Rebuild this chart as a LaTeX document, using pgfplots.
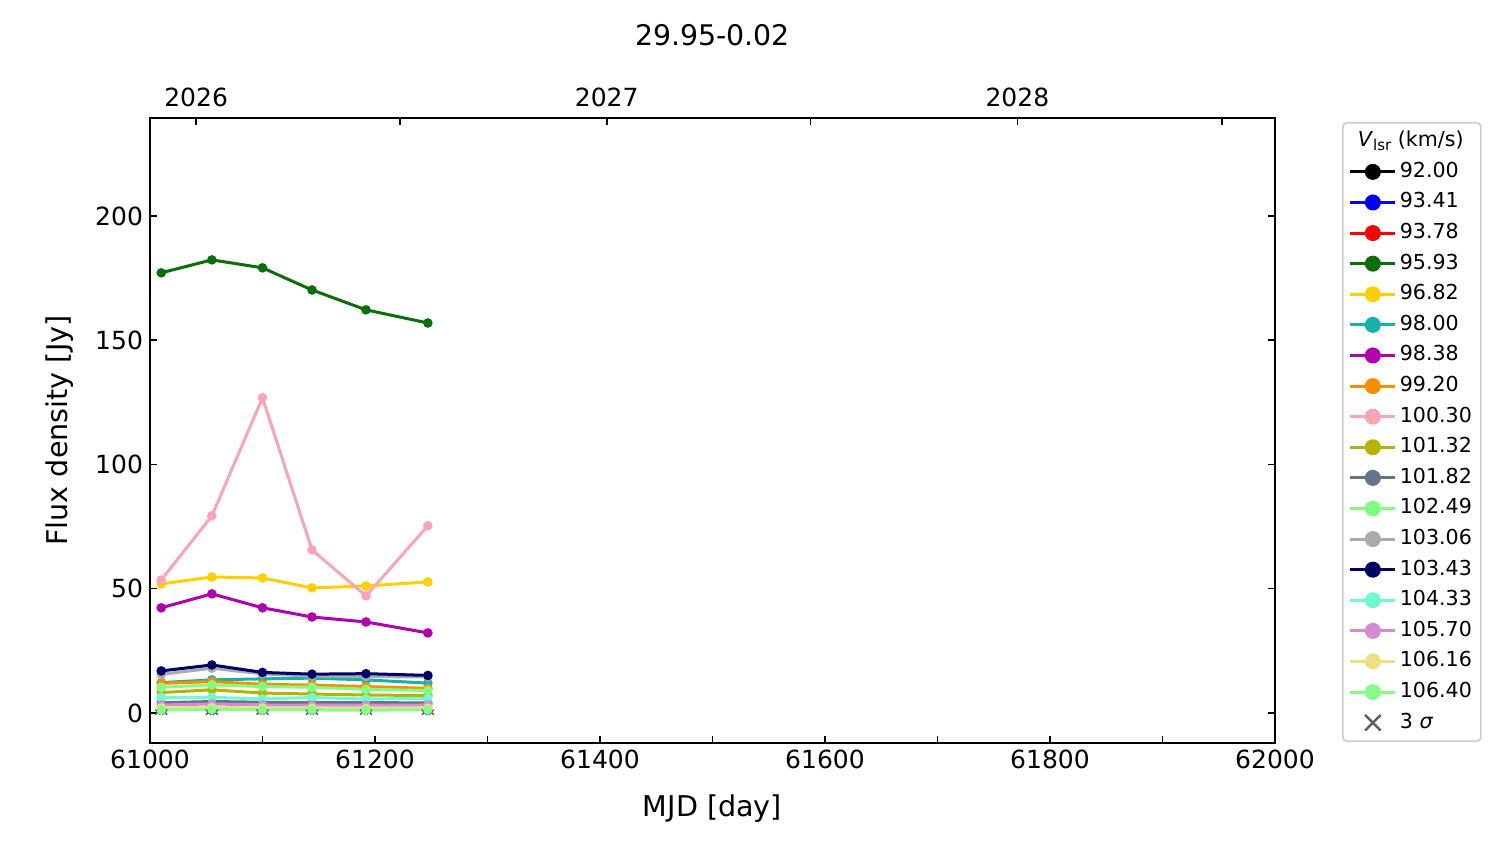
\documentclass[border=0pt]{standalone}
\usepackage{fontspec}
\setmainfont{DejaVu Sans}
\usepackage{pgfplots}
\pgfplotsset{compat=1.18}
\definecolor{cA}{HTML}{000000}
\definecolor{cB}{HTML}{0000FF}
\definecolor{cC}{HTML}{FF0000}
\definecolor{cD}{HTML}{0A6E0A}
\definecolor{cE}{HTML}{FFD000}
\definecolor{cF}{HTML}{15B2AA}
\definecolor{cG}{HTML}{B000B0}
\definecolor{cH}{HTML}{FF8C00}
\definecolor{cI}{HTML}{F8A5B5}
\definecolor{cJ}{HTML}{B4B400}
\definecolor{cK}{HTML}{627588}
\definecolor{cL}{HTML}{80FF80}
\definecolor{cM}{HTML}{AAAAAA}
\definecolor{cN}{HTML}{000066}
\definecolor{cO}{HTML}{70FAD0}
\definecolor{cP}{HTML}{D28CD2}
\definecolor{cQ}{HTML}{EDE07E}
\definecolor{cR}{HTML}{88FC88}
\definecolor{sig}{HTML}{606060}
\pgfplotsset{sigma legend/.style={legend image code/.code={\draw[sig, line width=1.2pt] plot[only marks, mark=x, mark size=5.5pt] coordinates {(11.25pt,0pt)};}}}
\begin{document}
\begin{tikzpicture}
\path[use as bounding box] (0,0) rectangle (750pt,422pt);
\begin{axis}[
  name=main,
  at={(75pt,50.5pt)}, anchor=south west,
  scale only axis, width=562.5pt, height=312.5pt,
  xmin=61000, xmax=62000, ymin=-12.1, ymax=239.4,
  axis line style={line width=1pt},
  every tick/.style={line width=0.8pt, black},
  tick align=inside,
  major tick length=3.5pt, minor tick length=3.5pt,
  xtick={61000,61200,...,62000},
  minor xtick={61100,61300,...,61900},
  ytick={0,50,...,200},
  xtick pos=bottom, ytick pos=both, yticklabel pos=left,
  /pgf/number format/assume math mode=true,
  /pgf/number format/set thousands separator={},
  scaled x ticks=false,
  tick label style={font=\fontsize{12.5}{15}\selectfont},
  xlabel={MJD [day]}, ylabel={Flux density [Jy]},
  label style={font=\fontsize{14.3}{17}\selectfont},
  xlabel style={at={(axis description cs:0.5,-0.1056)}, anchor=center},
  ylabel style={at={(axis description cs:-0.08,0.5)}, anchor=center},
  every axis title shift=0pt,
  title={29.95-0.02},
  title style={at={(axis description cs:0.5,1.1328)}, anchor=center, font=\fontsize{14.2}{17}\selectfont},
  every axis plot/.append style={line width=1.5pt, mark=*, mark size=1.6pt, mark options={solid}},
  legend image code/.code={\draw[mark repeat=2,mark phase=2,#1,mark size=3.25pt] plot coordinates {(0pt,0pt) (11.25pt,0pt) (22.5pt,0pt)};},
  legend cell align=left,
  legend style={at={(1.0596,0.9936)}, anchor=north west,
    draw=black!20, rounded corners=2pt, line width=0.8pt,
    font=\fontsize{10.3}{12}\selectfont,
    inner sep=3pt, row sep=2.8pt,
    nodes={inner sep=1.5pt, text height=7.5pt, text depth=2pt}},
]
% 3 sigma markers
\addplot[forget plot, only marks, mark=x, mark size=1.8pt, draw=sig, line width=0.8pt] coordinates {
(61007,0.3) (61013,0.3) (61052,0.3) (61058,0.3) (61097,0.3) (61103,0.3)
(61141,0.3) (61147,0.3) (61189,0.3) (61195,0.3) (61244,0.3) (61250,0.3)};
\addlegendimage{empty legend}
\addlegendentry{\hspace{-21pt}\textit{V}\raisebox{-0.35ex}{\fontsize{7.5}{9}\selectfont lsr} (km/s)}
\addlegendimage{cA, line width=1.5pt, mark=*}\addlegendentry{92.00}
\addlegendimage{cB, line width=1.5pt, mark=*}\addlegendentry{93.41}
\addlegendimage{cC, line width=1.5pt, mark=*}\addlegendentry{93.78}
\addplot[cD] coordinates {(61010,177.1) (61055,182.3) (61100,179.1) (61144,170.2) (61192,162.2) (61247,156.9)};
\addlegendentry{95.93}
\addplot[cE] coordinates {(61010,51.9) (61055,54.7) (61100,54.3) (61144,50.3) (61192,51.1) (61247,52.7)};
\addlegendentry{96.82}
\addplot[cF] coordinates {(61010,12.2) (61055,13.3) (61100,13.7) (61144,14.0) (61192,13.3) (61247,12.0)};
\addlegendentry{98.00}
\addplot[cG] coordinates {(61010,42.3) (61055,47.9) (61100,42.3) (61144,38.6) (61192,36.6) (61247,32.2)};
\addlegendentry{98.38}
\addplot[cH] coordinates {(61010,11.9) (61055,12.6) (61100,11.5) (61144,11.2) (61192,10.6) (61247,9.9)};
\addlegendentry{99.20}
\addplot[cI] coordinates {(61010,53.5) (61055,79.3) (61100,126.8) (61144,65.6) (61192,47.1) (61247,75.3)};
\addlegendentry{100.30}
\addplot[cJ] coordinates {(61010,8.2) (61055,9.3) (61100,8.0) (61144,7.6) (61192,7.2) (61247,7.0)};
\addlegendentry{101.32}
\addplot[cK] coordinates {(61010,4.1) (61055,4.6) (61100,4.3) (61144,4.1) (61192,4.2) (61247,4.0)};
\addlegendentry{101.82}
\addplot[cL] coordinates {(61010,10.3) (61055,11.3) (61100,10.6) (61144,10.3) (61192,9.5) (61247,9.0)};
\addlegendentry{102.49}
\addplot[cM] coordinates {(61010,15.5) (61055,18.0) (61100,15.7) (61144,14.8) (61192,14.6) (61247,14.5)};
\addlegendentry{103.06}
\addplot[cN] coordinates {(61010,16.9) (61055,19.3) (61100,16.3) (61144,15.6) (61192,15.8) (61247,15.1)};
\addlegendentry{103.43}
\addplot[cO] coordinates {(61010,6.3) (61055,6.3) (61100,5.6) (61144,6.2) (61192,5.6) (61247,5.9)};
\addlegendentry{104.33}
\addplot[cP] coordinates {(61010,3.2) (61055,3.6) (61100,3.2) (61144,3.1) (61192,3.1) (61247,3.2)};
\addlegendentry{105.70}
\addplot[cQ] coordinates {(61010,2.0) (61055,2.2) (61100,2.0) (61144,1.9) (61192,1.8) (61247,1.9)};
\addlegendentry{106.16}
\addplot[cR] coordinates {(61010,1.2) (61055,1.4) (61100,1.2) (61144,1.2) (61192,1.1) (61247,1.3)};
\addlegendentry{106.40}
\addlegendimage{sigma legend}
\addlegendentry{3 \textit{σ}}
\end{axis}
\begin{axis}[
  at={(75pt,50.5pt)}, anchor=south west,
  scale only axis, width=562.5pt, height=312.5pt,
  xmin=61000, xmax=62000, ymin=0, ymax=1,
  scaled x ticks=false,
  axis line style={line width=1pt},
  every tick/.style={line width=0.8pt, black},
  tick align=inside,
  major tick length=3.5pt, minor tick length=3.5pt,
  xtick={61041,61406,61771}, xticklabels={2026,2027,2028},
  minor xtick={61222,61587,61953},
  xtick pos=upper, xticklabel pos=upper,
  ytick=\empty,
  tick label style={font=\fontsize{12.5}{15}\selectfont},
  xticklabel style={yshift=2pt},
]
\end{axis}
\end{tikzpicture}
\end{document}
